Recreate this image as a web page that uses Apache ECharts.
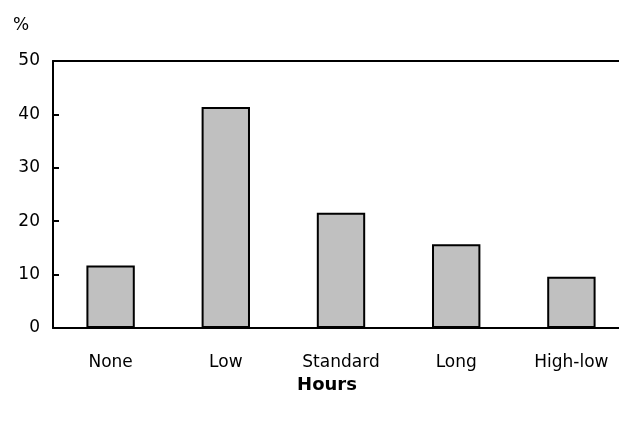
<!DOCTYPE html>
<html>
<head>
<meta charset="utf-8">
<script src="https://cdn.jsdelivr.net/npm/echarts@6/dist/echarts.min.js"></script>
<style>html,body{margin:0;padding:0;background:#fff}#c{width:619px;height:421px}</style>
</head>
<body>
<div id="c"></div>
<script>
var categories = ["None", "Low", "Standard", "Long", "High-low"];
var values = [11.7, 41.4, 21.6, 15.7, 9.6];
var yTicks = [0, 10, 20, 30, 40, 50];

var FONT = "DejaVu Sans";
var chart = echarts.init(document.getElementById('c'), null, {renderer: 'canvas'});
chart.setOption({
  animation: false,
  backgroundColor: '#fff',
  grid: {left: 53, top: 61, width: 576, height: 267, containLabel: false, outerBoundsMode: 'none'},
  graphic: [
    {type: 'text', left: 13, top: 17, style: {text: '%', font: '17px ' + FONT, fill: '#000'}}
  ],
  xAxis: [{
    type: 'category',
    data: categories,
    position: 'bottom',
    axisLine: {lineStyle: {color: '#000', width: 2}},
    axisTick: {show: false},
    axisLabel: {color: '#000', fontFamily: FONT, fontSize: 17, margin: 26},
    name: 'Hours',
    nameLocation: 'middle',
    nameGap: 43,
    nameTextStyle: {color: '#000', fontFamily: FONT, fontSize: 18, fontWeight: 'bold', padding: [0, 0, 0, -28]}
  }, {
    type: 'category',
    data: categories,
    position: 'top',
    axisLine: {lineStyle: {color: '#000', width: 2}},
    axisTick: {show: false},
    axisLabel: {show: false}
  }],
  yAxis: {
    type: 'value',
    min: yTicks[0],
    max: yTicks[yTicks.length - 1],
    interval: 10,
    axisLine: {show: true, lineStyle: {color: '#000', width: 2}},
    axisTick: {show: true, inside: true, length: 6, lineStyle: {color: '#000', width: 2}},
    splitLine: {show: false},
    axisLabel: {color: '#000', fontFamily: FONT, fontSize: 17, margin: 13}
  },
  series: [{
    type: 'bar',
    data: values,
    barWidth: '42%',
    itemStyle: {color: '#c0c0c0', borderColor: '#000', borderWidth: 2}
  }]
});
</script>
</body>
</html>
